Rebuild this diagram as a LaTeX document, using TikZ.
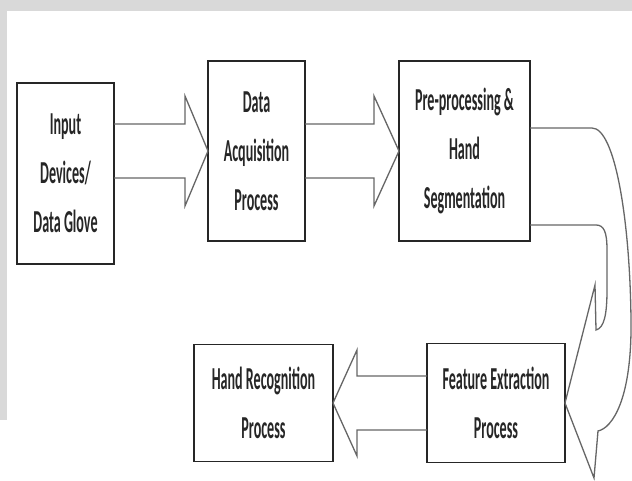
\documentclass[tikz,border=0pt]{standalone}
\usepackage{fontspec}
\setmainfont{Carlito}[FakeStretch=0.44]
\begin{document}
\begin{tikzpicture}[x=1pt,y=-1pt,inner sep=0pt,outer sep=0pt,
procblock/.style={draw=black!85,rectangle,line width=1.6pt,fill=white,align=center,
  font=\fontsize{32}{49}\selectfont\bfseries,text=black!85},
blkarrow/.style={draw=black!60,line width=1.3pt,line join=miter}]

\useasboundingbox (0,0) rectangle (632,481);
\fill[black!15] (0,0) rectangle (632,481);
\fill[white] (7,11) rectangle (632,481);
\fill[white] (0,420) rectangle (7,481);

\draw (65.5,173.5) node[procblock,minimum width=97pt,minimum height=181pt] (in) {Input\\Devices/\\Data Glove};
\draw (256.5,151) node[procblock,minimum width=97pt,minimum height=180pt] (acq) {Data\\Acquisition\\Process};
\draw (464.5,151) node[procblock,minimum width=131pt,minimum height=180pt] (pre) {Pre-processing \&\\Hand\\Segmentation};
\draw (496,403) node[procblock,minimum width=138pt,minimum height=119pt] (feat) {Feature Extraction\\Process};
\draw (263.5,403) node[procblock,minimum width=139pt,minimum height=117pt] (hrec) {Hand Recognition\\Process};

% block arrows between the boxes
\draw[blkarrow] (in.east |- acq.west) ++(0,-27) -- ++(71,0) -- ++(0,-28) -- (acq.west) -- ++(-23,55) -- ++(0,-28) -- ++(-71,0);
\draw[blkarrow] (acq.east |- pre.west) ++(0,-27) -- ++(69,0) -- ++(0,-28) -- (pre.west) -- ++(-25,55) -- ++(0,-28) -- ++(-69,0);
\draw[blkarrow] (feat.west) ++(0,-27) -- ++(-70,0) -- ++(0,-26) -- (hrec.east) -- ++(24,53) -- ++(0,-26) -- ++(70,0);

% curved arrow down to feature extraction
\draw[blkarrow] (pre.east) ++(0,-23) -- ++(62,0) .. controls (615,128) and (630,220) .. (631,320)
  .. controls (632,400) and (612,428) .. (598,431) -- (594,478) -- (feat.east) -- (595,285) -- (596,330)
  .. controls (604,328) and (607,315) .. (607,290) -- (607,250)
  .. controls (607,232) and (604,225) .. (596,225) -- (pre.east |- 0,225);
\end{tikzpicture}
\end{document}
